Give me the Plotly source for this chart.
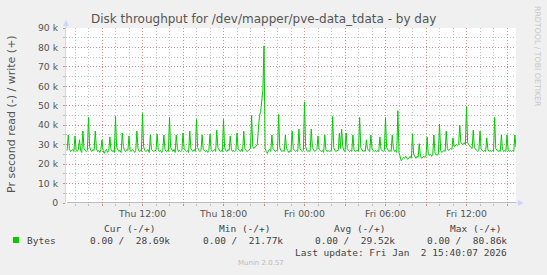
import plotly.graph_objects as go
import pandas as pd

# ---------------- data (kB/s, 5-minute samples) ----------------
first_sample = "2026-01-01 06:25"
# Thursday, one row per hour (first row starts 06:25)
thu_k = [
    27, 35, 28, 26.5, 27, 27.5, 26.5,                               # 06
    34.5, 27, 26.5, 27.5, 32.5, 27, 26, 37, 28, 27, 26.5, 27,         # 07
    44, 29, 27, 26.5, 27.5, 27, 37, 28, 26.5, 27, 26, 27.5,           # 08
    32.5, 27, 25.5, 27, 27.5, 26, 27, 34, 27.5, 26.5, 27, 26,         # 09
    44.5, 28.5, 27, 26.5, 27, 26, 36, 29, 27, 26.5, 27.5, 27,         # 10
    34.5, 27, 26.5, 27.5, 27, 26, 27, 37, 28, 26.5, 27, 26.5,         # 11
    46, 29, 27, 26.5, 27, 27.5, 26, 35, 27.5, 27, 26.5, 27,           # 12
    27, 35.5, 27.5, 26.5, 27, 26, 27, 35, 27.5, 26.5, 27, 26.5,       # 13
    44, 28.5, 27, 26.5, 27.5, 26, 35, 28, 26.5, 27, 26.5, 27,         # 14
    36, 28, 27, 26.5, 27, 26, 37, 28, 27, 26.5, 27.5, 26.5,           # 15
    43, 28.5, 27, 26.5, 27, 35, 27.5, 27, 26.5, 27, 26, 27,           # 16
    35.5, 27.5, 26.5, 27, 27.5, 26.5, 37.5, 28.5, 27, 26.5, 27, 26.5, # 17
    43, 28.5, 27, 26.5, 27.5, 27, 34.5, 27.5, 26.5, 27, 26.5, 27,     # 18
    36, 28, 27, 26.5, 27.5, 26.5, 37, 28, 27, 26.5, 27, 27.5,         # 19
    28, 45, 29, 28, 28.5, 29, 30, 38, 45, 47, 55, 58,                 # 20
    80.86, 28, 26.5, 25.5, 27, 27.5, 26.5, 35, 28, 27, 26.5, 27,      # 21
    27, 45.5, 28.5, 27, 26.5, 27, 26.5, 35, 28, 27, 26, 27,           # 22
    26.5, 37, 28, 27, 26.5, 27, 26.5, 38, 28, 27, 26.5, 27,           # 23
]
# Friday, one row per hour (last row ends 15:40)
fri_k = [
    52, 29, 27, 26.5, 27, 26.5, 38, 28.5, 27, 26.5, 27, 27.5,         # 00
    34.5, 27.5, 27, 26.5, 27, 26, 35, 27.5, 26.5, 27, 26.5, 27,       # 01
    27, 44.5, 28.5, 27, 26.5, 27, 27, 36, 28, 38, 29, 27,             # 02
    26.5, 36, 28, 27, 26.5, 27, 26.5, 35, 27.5, 26.5, 27, 27,         # 03
    26.5, 44, 28.5, 27, 26.5, 27, 26.5, 32.5, 28, 27, 26.5, 35,       # 04
    28, 27, 26.5, 27, 26.5, 27, 26.5, 34, 27.5, 27, 26.5, 27,         # 05
    44, 28.5, 27, 26.5, 27, 26.5, 35, 28, 26.5, 27, 26, 47.5,         # 06
    26, 24, 21.77, 22.5, 23.5, 23, 24, 23, 22.5, 23.5, 24, 23,        # 07
    35.5, 25, 23.5, 23, 24, 23.5, 30.5, 24.5, 23, 23.5, 24, 23.5,     # 08
    24, 34, 25, 24.5, 25, 24, 25, 35, 25.5, 25, 24.5, 25.5,           # 09
    40.5, 27, 26, 26.5, 27, 26.5, 37, 28, 27, 27.5, 28, 27.5,         # 10
    33.5, 29, 29.5, 30, 29.5, 30, 40, 31, 30.5, 30, 31, 30,           # 11
    49.5, 31, 30, 29, 28.5, 28, 37.5, 28.5, 27.5, 27, 26.5, 27,       # 12
    37, 28, 27, 26.5, 27, 26.5, 33.5, 27.5, 26.5, 27, 26.5, 27,       # 13
    26.5, 44, 28, 27, 26.5, 27, 26.5, 35, 27.5, 26.5, 27, 26.5,       # 14
    35, 27.5, 26.5, 27, 26.5, 27, 26.5, 35, 28.69,                    # 15
]

x_range = ["2026-01-01 06:20", "2026-01-02 15:40"]
x_tickvals = ["2026-01-01 09:00", "2026-01-01 12:00", "2026-01-01 15:00",
              "2026-01-01 18:00", "2026-01-01 21:00", "2026-01-02 00:00",
              "2026-01-02 03:00", "2026-01-02 06:00", "2026-01-02 09:00",
              "2026-01-02 12:00", "2026-01-02 15:00"]
x_ticktext = ["", "Thu 12:00", "", "Thu 18:00", "", "Fri 00:00",
              "", "Fri 06:00", "", "Fri 12:00", ""]
y_tickvals = [0, 10000, 20000, 30000, 40000, 50000, 60000, 70000, 80000, 90000]
y_ticktext = ["0", "10 k", "20 k", "30 k", "40 k", "50 k", "60 k", "70 k", "80 k", "90 k"]

title_text = "Disk throughput for /dev/mapper/pve-data_tdata - by day"
ylabel_text = "Pr second read (-) / write (+)"
legend_cols = ["Cur (-/+)", "Min (-/+)", "Avg (-/+)", "Max (-/+)"]
legend_vals = ["0.00 /\u00a0\u00a028.69k", "0.00 /\u00a0\u00a021.77k",
               "0.00 /\u00a0\u00a029.52k", "0.00 /\u00a0\u00a080.86k"]
series_name = "Bytes"
last_update = "Last update: Fri Jan\u00a0\u00a02 15:40:07 2026"
munin_ver = "Munin 2.0.57"
side_text = "RRDTOOL / TOBI OETIKER"

# ---------------- build ----------------
values = [v * 1000 for v in thu_k + fri_k]
times = pd.date_range(first_sample, periods=len(values), freq="5min")

W, H = 547, 275
L, R, T, B = 66, 516, 28, 203
PW, PH = R - L, B - T


def px(x):
    return (x - L) / PW


def py(y):
    return (B - y) / PH


GREEN = "#00CC00"
FONT = "#555555"
AXIS = "#CFD6F8"
MAJ = "rgba(228,110,110,0.65)"
MIN = "rgba(150,150,150,0.55)"
DASH = "1px,2px"

fig = go.Figure()
fig.add_trace(go.Scatter(x=times, y=values, mode="lines",
                         line=dict(color=GREEN, width=1), showlegend=False,
                         hoverinfo="skip"))
# read side (all zero)
fig.add_trace(go.Scatter(x=[times[0], times[-1]], y=[0, 0], mode="lines",
                         line=dict(color="#7a7a90", width=1), showlegend=False,
                         hoverinfo="skip"))

fig.update_layout(
    width=W, height=H,
    margin=dict(l=L, r=W - R, t=T, b=H - B, pad=0),
    paper_bgcolor="#F0F0F0", plot_bgcolor="#FFFFFF",
    font=dict(family="DejaVu Sans", size=9.3, color=FONT),
)
fig.update_xaxes(
    type="date", range=x_range, tickmode="array", tickvals=x_tickvals,
    ticktext=x_ticktext, showgrid=True, gridcolor=MAJ, griddash=DASH,
    gridwidth=1, ticks="outside", ticklen=2, tickcolor=MAJ,
    tickfont=dict(size=9.3, color=FONT), showline=False, zeroline=False,
    minor=dict(dtick=3600000, tick0="2026-01-01 00:00", showgrid=True,
               gridcolor=MIN, griddash=DASH, gridwidth=1, ticks="outside",
               ticklen=2, tickcolor=MIN),
    fixedrange=True,
)
fig.update_yaxes(
    range=[0, 90000], tickmode="array", tickvals=y_tickvals, ticktext=y_ticktext,
    showgrid=True, gridcolor=MAJ, griddash=DASH, gridwidth=1,
    ticks="outside", ticklen=2, tickcolor=MAJ, ticklabelstandoff=3,
    tickfont=dict(size=9.3, color=FONT), zeroline=False,
    showline=True, linecolor=AXIS, linewidth=1,
    minor=dict(dtick=5000, showgrid=True, gridcolor=MIN, griddash=DASH,
               gridwidth=1, ticks="outside", ticklen=2, tickcolor=MIN),
    fixedrange=True,
)

shapes = []
# y axis extension and arrow
shapes.append(dict(type="line", xref="paper", yref="paper", x0=0, x1=0,
                   y0=1, y1=py(25), line=dict(color=AXIS, width=1)))
shapes.append(dict(type="path", xref="paper", yref="paper",
                   path=f"M {px(63)} {py(26)} L {px(69)} {py(26)} L {px(66)} {py(20)} Z",
                   fillcolor=AXIS, line=dict(color=AXIS, width=0)))
# x axis arrow
shapes.append(dict(type="line", xref="paper", yref="paper", x0=1, x1=px(519),
                   y0=0, y1=0, line=dict(color=AXIS, width=1)))
shapes.append(dict(type="path", xref="paper", yref="paper",
                   path=f"M {px(518)} {py(200)} L {px(518)} {py(206)} L {px(524)} {py(203)} Z",
                   fillcolor=AXIS, line=dict(color=AXIS, width=0)))
# legend swatch
shapes.append(dict(type="rect", xref="paper", yref="paper", x0=px(13), x1=px(19),
                   y0=py(243), y1=py(237), fillcolor=GREEN, line=dict(width=0)))
fig.update_layout(shapes=shapes)

ann = []
ann.append(dict(text=title_text, x=px(263), y=py(19), xref="paper", yref="paper",
                showarrow=False, xanchor="center", yanchor="middle",
                font=dict(family="DejaVu Sans", size=12, color=FONT)))
ann.append(dict(text=ylabel_text, x=px(11), y=py(114), xref="paper", yref="paper",
                showarrow=False, xanchor="center", yanchor="middle", textangle=-90,
                font=dict(family="DejaVu Sans", size=11, color=FONT)))
ann.append(dict(text=side_text, x=px(538), y=py(56), xref="paper", yref="paper",
                showarrow=False, xanchor="center", yanchor="middle", textangle=90,
                font=dict(family="DejaVu Sans", size=7.8, color="#C8C8C8")))
mono = dict(family="DejaVu Sans Mono", size=9.5, color="#444444")
for txt, xr in zip(legend_cols, [157, 272, 387, 503]):
    ann.append(dict(text=txt, x=px(xr), y=py(228), xref="paper", yref="paper",
                    showarrow=False, xanchor="right", yanchor="middle", font=mono))
for txt, xr in zip(legend_vals, [172, 285, 397, 509]):
    ann.append(dict(text=txt, x=px(xr), y=py(240), xref="paper", yref="paper",
                    showarrow=False, xanchor="right", yanchor="middle", font=mono))
ann.append(dict(text=series_name, x=px(25), y=py(240), xref="paper", yref="paper",
                showarrow=False, xanchor="left", yanchor="middle", font=mono))
ann.append(dict(text=last_update, x=px(509), y=py(252), xref="paper", yref="paper",
                showarrow=False, xanchor="right", yanchor="middle", font=mono))
ann.append(dict(text=munin_ver, x=px(261), y=py(263), xref="paper", yref="paper",
                showarrow=False, xanchor="center", yanchor="middle",
                font=dict(family="DejaVu Sans", size=7, color="#BBBBBB")))
fig.update_layout(annotations=ann)

fig.write_html("out.html", config={"displayModeBar": False})
